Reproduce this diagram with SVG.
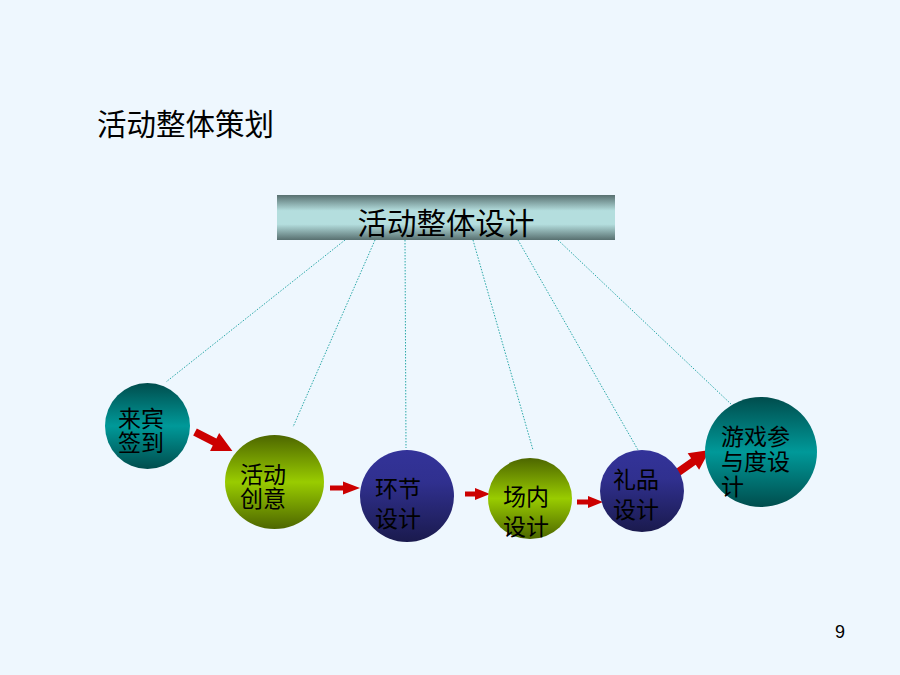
<svg xmlns="http://www.w3.org/2000/svg" width="900" height="675" viewBox="0 0 900 675">
<defs>
<linearGradient id="gBar" x1="0" y1="0" x2="0" y2="1">
<stop offset="0" stop-color="#587070"/>
<stop offset="0.35" stop-color="#b4dede"/>
<stop offset="0.65" stop-color="#b4dede"/>
<stop offset="1" stop-color="#587070"/>
</linearGradient>
<linearGradient id="gTeal" x1="0" y1="0" x2="0" y2="1">
<stop offset="0" stop-color="#004d4d"/>
<stop offset="0.5" stop-color="#009999"/>
<stop offset="1" stop-color="#004d4d"/>
</linearGradient>
<linearGradient id="gOlive" x1="0" y1="0" x2="0" y2="1">
<stop offset="0" stop-color="#4d6600"/>
<stop offset="0.5" stop-color="#99cc00"/>
<stop offset="1" stop-color="#4d6600"/>
</linearGradient>
<linearGradient id="gNavy" x1="0" y1="0" x2="0" y2="1">
<stop offset="0" stop-color="#333399"/>
<stop offset="0.35" stop-color="#30308f"/>
<stop offset="1" stop-color="#1a1a4d"/>
</linearGradient>
</defs>
<style>
.t{font-family:"Noto Sans CJK SC","Noto Sans",sans-serif;fill:#000}
.c{font-size:23px}
.dot{stroke:#2aa8a8;stroke-width:1;stroke-dasharray:1.5 1.5;fill:none}
.arr{fill:#cc0000}
</style>
<rect width="900" height="675" fill="#eef7fe"/>
<text class="t" x="97" y="135" font-size="29.5">活动整体策划</text>
<g id="top">
<rect x="277" y="195" width="338" height="45" fill="url(#gBar)"/>
<text class="t" x="446" y="234" font-size="29.5" text-anchor="middle">活动整体设计</text>
</g>
<g id="connectors">
<line class="dot" x1="345" y1="240" x2="166" y2="382"/>
<line class="dot" x1="375" y1="240" x2="293" y2="427"/>
<line class="dot" x1="405" y1="240" x2="406" y2="448"/>
<line class="dot" x1="473" y1="240" x2="533" y2="450"/>
<line class="dot" x1="518" y1="240" x2="638" y2="450"/>
<line class="dot" x1="558" y1="240" x2="732" y2="405"/>
<path class="arr" transform="translate(195,432) rotate(27)" d="M0,-4 L22,-4 L22,-10 L42,0 L22,10 L22,4 L0,4 Z"/>
<path class="arr" transform="translate(330,488)" d="M0,-2.5 L13,-2.5 L13,-6.5 L30,0 L13,6.5 L13,2.5 L0,2.5 Z"/>
<path class="arr" transform="translate(465,494)" d="M0,-2.5 L10,-2.5 L10,-6 L25,0 L10,6 L10,2.5 L0,2.5 Z"/>
<path class="arr" transform="translate(577,502)" d="M0,-2.5 L11,-2.5 L11,-6 L26,0 L11,6 L11,2.5 L0,2.5 Z"/>
<path class="arr" transform="translate(677,473) rotate(-35)" d="M0,-4 L20,-4 L20,-10 L40,0 L20,10 L20,4 L0,4 Z"/>
</g>
<g id="n1">
<ellipse cx="147.5" cy="426" rx="42.5" ry="43" fill="url(#gTeal)"/>
<text class="t c"><tspan x="118" y="427">来宾</tspan><tspan x="118" y="451">签到</tspan></text>
</g>
<g id="n2">
<ellipse cx="274.5" cy="482" rx="49.5" ry="47" fill="url(#gOlive)"/>
<text class="t c"><tspan x="240" y="483">活动</tspan><tspan x="240" y="507">创意</tspan></text>
</g>
<g id="n3">
<ellipse cx="407" cy="496" rx="47" ry="46" fill="url(#gNavy)"/>
<text class="t c"><tspan x="375" y="497">环节</tspan><tspan x="375" y="527">设计</tspan></text>
</g>
<g id="n4">
<ellipse cx="530" cy="498.5" rx="42" ry="40.5" fill="url(#gOlive)"/>
<text class="t c"><tspan x="503" y="505">场内</tspan><tspan x="503" y="535">设计</tspan></text>
</g>
<g id="n5">
<ellipse cx="642" cy="491" rx="42" ry="41" fill="url(#gNavy)"/>
<text class="t c"><tspan x="613" y="488">礼品</tspan><tspan x="613" y="518">设计</tspan></text>
</g>
<g id="n6">
<ellipse cx="761" cy="452" rx="56" ry="55" fill="url(#gTeal)"/>
<text class="t c"><tspan x="721" y="445">游戏参</tspan><tspan x="721" y="470">与度设</tspan><tspan x="721" y="495">计</tspan></text>
</g>
<text x="840" y="638" font-family="Liberation Sans, Arial, sans-serif" font-size="18" text-anchor="middle" fill="#000">9</text>
</svg>
